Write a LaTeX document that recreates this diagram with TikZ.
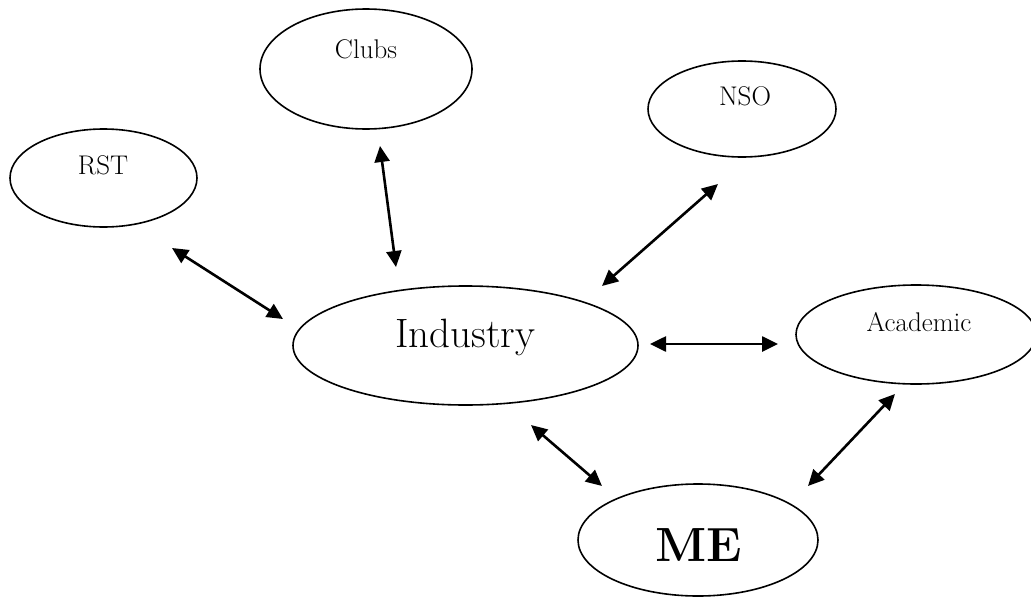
\documentclass[tikz,border=0pt]{standalone}
\usepackage{fontspec}
\usetikzlibrary{shapes.geometric,arrows.meta}

\tikzset{
  bubble/.style={draw=black, line width=1.6pt, ellipse, inner sep=0pt},
  lbl/.style={anchor=base, inner sep=0pt, font=\fontsize{27}{30}\selectfont},
  link/.style={line width=2.6pt, {Triangle[length=16pt,width=15pt]}-{Triangle[length=16pt,width=15pt]}}
}

\begin{document}
\begin{tikzpicture}[x=1pt, y=-1pt]
  \useasboundingbox (0,0) rectangle (1031,597);

  % ellipses
  \node[bubble, minimum width=212pt, minimum height=120pt] (clubs) at (366,69) {};
  \node[bubble, minimum width=187pt, minimum height=98pt]  (rst)   at (103.5,178) {};
  \node[bubble, minimum width=188pt, minimum height=96pt]  (nso)   at (742,109) {};
  \node[bubble, minimum width=345pt, minimum height=119pt] (ind)   at (465.5,345.5) {};
  \node[bubble, minimum width=240pt, minimum height=99pt]  (acad)  at (916,334.5) {};
  \node[bubble, minimum width=240pt, minimum height=112pt] (me)    at (698,540) {};

  % labels
  \node[lbl] (tclubs) at (366,58)  {Clubs};
  \node[lbl] (trst)   at (103,174) {RST};
  \node[lbl] (tnso)   at (745,105) {NSO};
  \node[lbl] (tacad)  at (919,331) {Academic};
  \node[lbl, font=\fontsize{41}{45}\selectfont] (tind) at (465,347) {Industry};
  \node[lbl, font=\fontsize{48}{53}\selectfont\bfseries] (tme) at (699,561) {ME};

  % arrow ends
  \coordinate (a1) at (172,248);  \coordinate (b1) at (283,319);
  \coordinate (a2) at (380,146);  \coordinate (b2) at (396,267);
  \coordinate (a3) at (718,184);  \coordinate (b3) at (602,286);
  \coordinate (a4) at (650,344);  \coordinate (b4) at (778,344);
  \coordinate (a5) at (531,425);  \coordinate (b5) at (602,486);
  \coordinate (a6) at (895,394);  \coordinate (b6) at (808,486);

  % connectors
  \draw[link] (a1) -- (b1);
  \draw[link] (a2) -- (b2);
  \draw[link] (a3) -- (b3);
  \draw[link] (a4) -- (b4);
  \draw[link] (a5) -- (b5);
  \draw[link] (a6) -- (b6);
\end{tikzpicture}
\end{document}
